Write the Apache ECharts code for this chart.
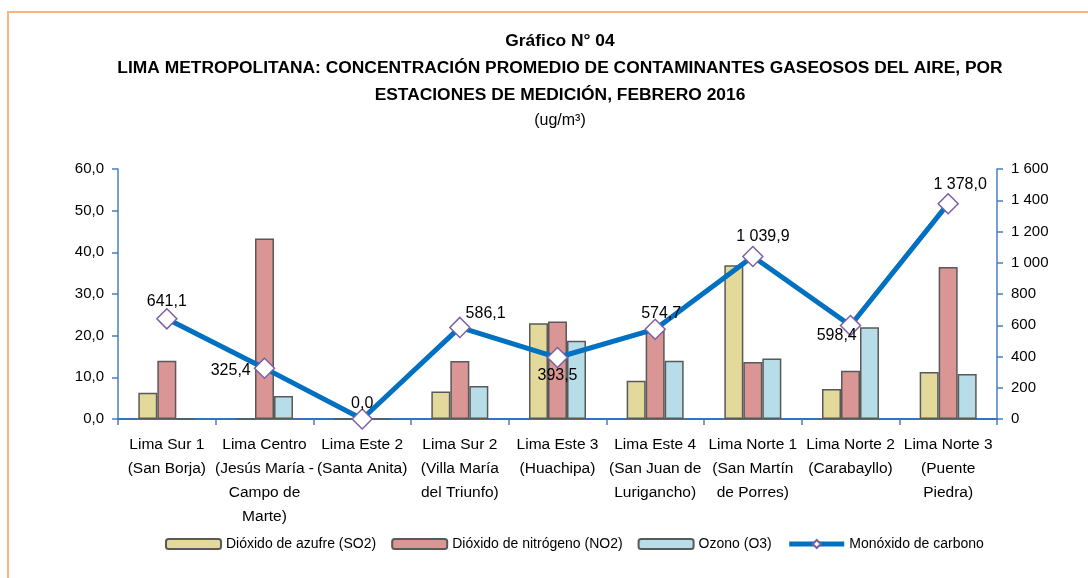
<!DOCTYPE html>
<html>
<head>
<meta charset="utf-8">
<script src="https://cdn.jsdelivr.net/npm/echarts@6/dist/echarts.min.js"></script>
<style>
  html, body { margin: 0; padding: 0; background: #fff; }
  #chart { width: 1088px; height: 578px; }
</style>
</head>
<body>
<div id="chart"></div>
<script>
// estaciones de medición
var estaciones = [
  'Lima Sur 1\n(San Borja)',
  'Lima Centro\n(Jesús María -\nCampo de\nMarte)',
  'Lima Este 2\n(Santa Anita)',
  'Lima Sur 2\n(Villa María\ndel Triunfo)',
  'Lima Este 3\n(Huachipa)',
  'Lima Este 4\n(San Juan de\nLurigancho)',
  'Lima Norte 1\n(San Martín\nde Porres)',
  'Lima Norte 2\n(Carabayllo)',
  'Lima Norte 3\n(Puente\nPiedra)'
];
// ug/m3, eje izquierdo
var so2 = [6.3, 0, 0, 6.6, 23.0, 9.2, 36.9, 7.2, 11.3];
var no2 = [14.0, 43.3, 0, 13.9, 23.4, 21.5, 13.7, 11.6, 36.5];
var o3  = [0, 5.5, 0, 7.9, 18.8, 14.0, 14.5, 22.0, 10.8];
// ug/m3, eje derecho
var co  = [641.1, 325.4, 0.0, 586.1, 393.5, 574.7, 1039.9, 598.4, 1378.0];

// donde va cada etiqueta del monóxido
var posEtiqueta = [
  ['top', [0, 7]], ['left', [2, 2]], ['top', [0, 8]], ['right', [-10, -14]], ['bottom', [0, -6]],
  ['top', [6, 8]], ['top', [10, 4]], ['left', [22, 10]], ['top', [12, 5]]
];

var fuente = '"Liberation Sans", Arial, sans-serif';
var azulEje = '#4A7EBB';

function fmtNum(v) {
  var s = v.toFixed(1).replace('.', ',');
  var partes = s.split(',');
  partes[0] = partes[0].replace(/\B(?=(\d{3})+(?!\d))/g, ' ');
  return partes.join(',');
}

var chart = echarts.init(document.getElementById('chart'));

var coData = co.map(function (v, i) {
  return {
    value: v,
    label: { position: posEtiqueta[i][0], offset: posEtiqueta[i][1] }
  };
});

function barra(nombre, color, datos) {
  return {
    name: nombre,
    type: 'bar',
    barWidth: 19,
    barGap: '0%',
    itemStyle: { color: color, borderColor: '#595959', borderWidth: 1.5 },
    data: datos
  };
}

var option = {
  backgroundColor: '#fff',
  textStyle: { fontFamily: fuente, color: '#000' },
  animation: false,
  graphic: [{
    type: 'rect',
    shape: { x: 8, y: 12, width: 1200, height: 700 },
    style: { fill: 'none', stroke: '#F9B47F', lineWidth: 2 },
    silent: true
  }],
  title: [{
    text: 'Gráfico N° 04\nLIMA METROPOLITANA: CONCENTRACIÓN PROMEDIO DE CONTAMINANTES GASEOSOS DEL AIRE, POR\nESTACIONES DE MEDICIÓN, FEBRERO 2016',
    left: 555,
    top: 23,
    textAlign: 'center',
    textStyle: { fontFamily: fuente, fontSize: 17.4, fontWeight: 'bold', lineHeight: 27, color: '#000' }
  }, {
    text: '(ug/m³)',
    left: 555,
    top: 108,
    textAlign: 'center',
    textStyle: { fontFamily: fuente, fontSize: 16, fontWeight: 'normal', color: '#000' }
  }],
  legend: {
    left: 160,
    top: 532,
    itemWidth: 55,
    itemHeight: 10,
    itemGap: 15,
    textStyle: { fontFamily: fuente, fontSize: 14, color: '#000' },
    data: [
      'Dióxido de azufre (SO2)',
      'Dióxido de nitrógeno (NO2)',
      'Ozono (O3)',
      { name: 'Monóxido de carbono', lineStyle: { width: 5, color: '#0070C0' } }
    ]
  },
  grid: { left: 118, right: 91, top: 169, bottom: 159 },
  xAxis: {
    type: 'category',
    data: estaciones,
    axisLine: { lineStyle: { color: '#2F75C0', width: 2 } },
    axisTick: { show: true, length: 6, lineStyle: { color: azulEje, width: 1.5 } },
    axisLabel: { interval: 0, fontSize: 15.5, lineHeight: 24, margin: 14, color: '#000', fontFamily: fuente }
  },
  yAxis: [{
    type: 'value',
    min: 0, max: 60, interval: 10,
    splitLine: { show: false },
    axisLine: { show: true, lineStyle: { color: azulEje, width: 1.5 } },
    axisTick: { show: true, length: 6, lineStyle: { color: azulEje, width: 1.5 } },
    axisLabel: { fontSize: 15, color: '#000', margin: 14, fontFamily: fuente, formatter: function (v) { return v.toFixed(1).replace('.', ','); } }
  }, {
    type: 'value',
    min: 0, max: 1600, interval: 200,
    splitLine: { show: false },
    axisLine: { show: true, lineStyle: { color: azulEje, width: 1.5 } },
    axisTick: { show: true, length: 6, lineStyle: { color: azulEje, width: 1.5 } },
    axisLabel: { fontSize: 15, color: '#000', margin: 14, fontFamily: fuente, formatter: function (v) { return String(v).replace(/\B(?=(\d{3})+(?!\d))/g, ' '); } }
  }],
  series: [
    barra('Dióxido de azufre (SO2)', '#E3D99B', so2),
    barra('Dióxido de nitrógeno (NO2)', '#D99694', no2),
    barra('Ozono (O3)', '#B7DDE8', o3),
    {
      name: 'Monóxido de carbono',
      type: 'line',
      yAxisIndex: 1,
      z: 5,
      symbol: 'diamond',
      symbolSize: 20,
      lineStyle: { color: '#0070C0', width: 5 },
      itemStyle: { color: '#fff', borderColor: '#7D5FA6', borderWidth: 1.5 },
      label: {
        show: true,
        fontSize: 16,
        color: '#000',
        fontFamily: fuente,
        formatter: function (p) { return fmtNum(p.value); }
      },
      data: coData
    }
  ]
};

chart.setOption(option);
</script>
</body>
</html>
